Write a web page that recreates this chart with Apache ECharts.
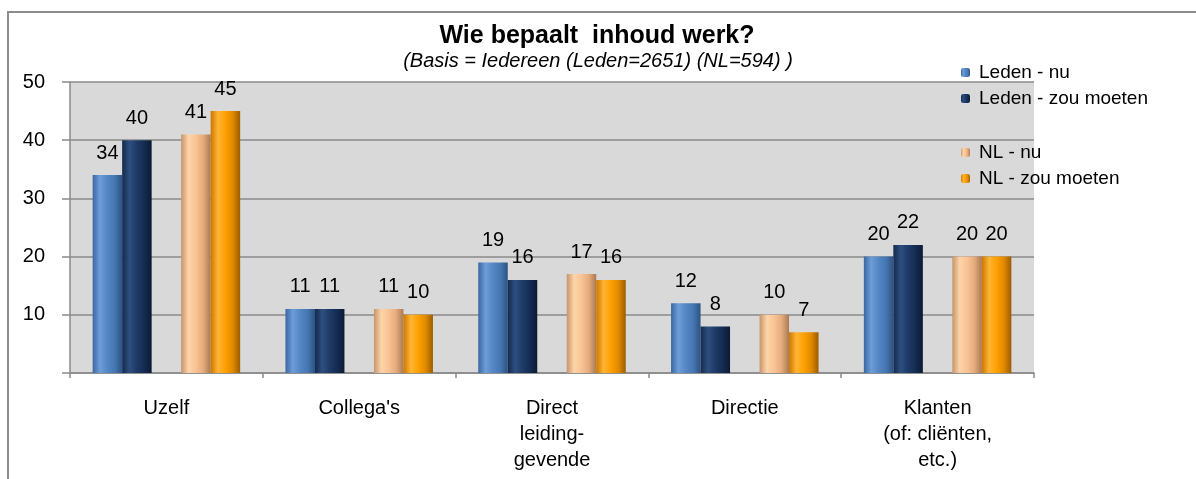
<!DOCTYPE html>
<html>
<head>
<meta charset="utf-8">
<script src="https://cdn.jsdelivr.net/npm/echarts@6/dist/echarts.min.js"></script>
<style>
  html, body { margin: 0; padding: 0; background: #fff; }
  #chart { width: 1196px; height: 479px; }
</style>
</head>
<body>
<div id="chart"></div>
<script>
// categorieen (x-as)
const categories = ['Uzelf', "Collega's", 'Direct\nleiding-\ngevende', 'Directie', 'Klanten\n(of: cliënten,\netc.)'];

// waarden per reeks
const ledenNu = [34, 11, 19, 12, 20];
const ledenZou = [40, 11, 16, 8, 22];
const nlNu = [41, 11, 17, 10, 20];
const nlZou = [45, 10, 16, 7, 20];

const seriesNames = ['Leden - nu', 'Leden - zou moeten', 'NL - nu', 'NL - zou moeten'];
const yTicks = [0, 10, 20, 30, 40, 50];

const FONT = '"Liberation Sans", Arial, sans-serif';

// horizontale gradient om het 3D effect van de balken na te doen
const bevel = (stops) => new echarts.graphic.LinearGradient(0, 0, 1, 0,
    stops.map((c, i) => ({ offset: i / (stops.length - 1), color: c })));

const colors = [
    bevel(['#3a67a0', '#6e9dd8', '#5386c4', '#4677b3', '#2c5282']),
    bevel(['#132a4d', '#2d4f80', '#1e3a66', '#142c52', '#0b1a33']),
    bevel(['#c6946a', '#fdd4aa', '#f9c394', '#e5ab7d', '#a97a52']),
    bevel(['#cc7700', '#ffb434', '#ffa000', '#e08a00', '#9c5c00']),
];

const barLabel = {
    show: true,
    position: 'top',
    distance: 12,
    color: '#000',
    fontSize: 20,
    fontFamily: FONT,
};

const makeBar = (name, data, color) => ({
    name,
    type: 'bar',
    data,
    barWidth: 29.5,
    barGap: '0%',
    itemStyle: { color },
    label: barLabel,
});

const legendText = { fontSize: 19, color: '#000', fontFamily: FONT, padding: [0, 0, 0, 4] };

const chart = echarts.init(document.getElementById('chart'));

const option = {
    animation: false,
    textStyle: { fontFamily: FONT },
    title: [
        {
            text: 'Wie bepaalt  inhoud werk?',
            left: 592, top: 19, textAlign: 'center',
            textStyle: { fontSize: 25, fontWeight: 'bold', color: '#000', fontFamily: FONT },
        },
        {
            text: '(Basis = Iedereen (Leden=2651) (NL=594) )',
            left: 593, top: 46, textAlign: 'center',
            textStyle: { fontSize: 20, fontStyle: 'italic', fontWeight: 'normal', color: '#000', fontFamily: FONT },
        },
    ],
    legend: [
        {
            data: seriesNames.slice(0, 2),
            orient: 'vertical',
            left: 956, top: 58,
            itemWidth: 9, itemHeight: 9, itemGap: 7,
            textStyle: legendText,
        },
        {
            data: seriesNames.slice(2),
            orient: 'vertical',
            left: 956, top: 138,
            itemWidth: 9, itemHeight: 9, itemGap: 7,
            textStyle: legendText,
        },
    ],
    grid: {
        left: 70, right: 162, top: 82, bottom: 106,
        show: true,
        backgroundColor: '#d9d9d9',
        borderWidth: 0,
    },
    xAxis: {
        type: 'category',
        data: categories,
        axisLine: { lineStyle: { color: '#8a8a8a', width: 1.5 } },
        axisTick: { show: true, length: 5, lineStyle: { color: '#8a8a8a', width: 1.5 } },
        axisLabel: {
            color: '#000', fontSize: 20, fontFamily: FONT,
            margin: 22, lineHeight: 26, interval: 0,
        },
    },
    yAxis: {
        type: 'value',
        min: yTicks[0],
        max: yTicks[yTicks.length - 1],
        interval: 10,
        axisLine: { show: true, lineStyle: { color: '#8a8a8a', width: 1.5 } },
        axisTick: { show: true, length: 8, lineStyle: { color: '#8a8a8a', width: 1.5 } },
        axisLabel: {
            color: '#000', fontSize: 20, fontFamily: FONT, margin: 25,
            formatter: (v) => (v === 0 ? '' : String(v)),
        },
        splitLine: { lineStyle: { color: '#8a8a8a', width: 1.5 } },
    },
    graphic: [
        {
            type: 'polyline',
            shape: { points: [[8, 479], [8, 12], [1196, 12]] },
            style: { stroke: '#8c8c8c', lineWidth: 2, fill: null },
            silent: true,
        },
    ],
    series: [
        makeBar(seriesNames[0], ledenNu, colors[0]),
        makeBar(seriesNames[1], ledenZou, colors[1]),
        // lege reeks voor de ruimte tussen Leden en NL
        { name: 'spacer', type: 'bar', data: [], barWidth: 29.5, barGap: '0%' },
        makeBar(seriesNames[2], nlNu, colors[2]),
        makeBar(seriesNames[3], nlZou, colors[3]),
    ],
};

chart.setOption(option);
</script>
</body>
</html>
